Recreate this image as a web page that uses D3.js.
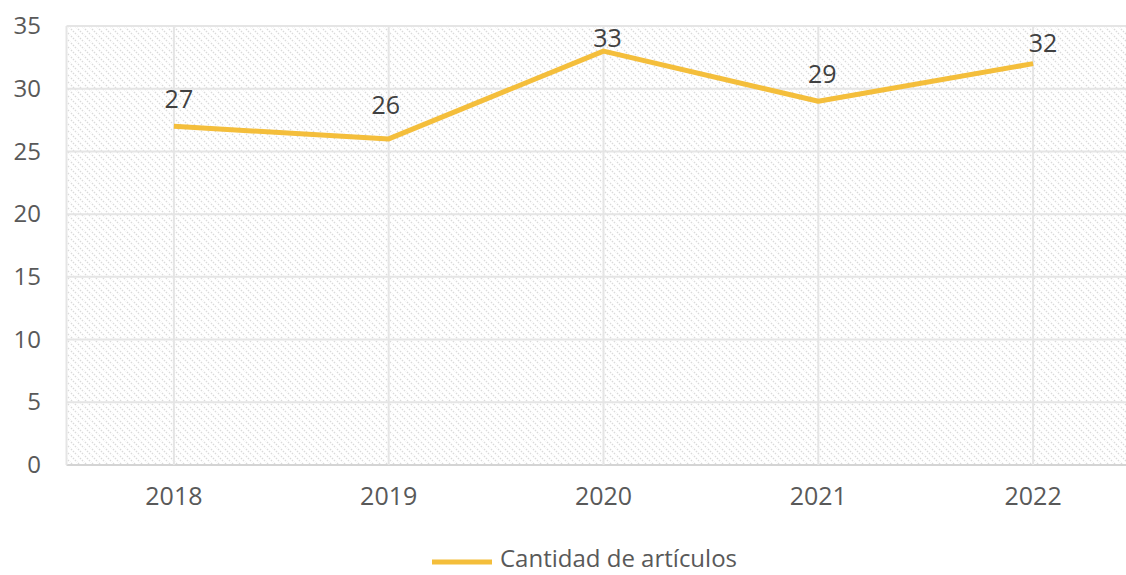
<!DOCTYPE html>
<html>
<head>
<meta charset="utf-8">
<script src="https://cdn.jsdelivr.net/npm/d3@7"></script>
<style>
    body { margin: 0; background: #fff; overflow: hidden; }
    text { font-family: "Open Sans", sans-serif; }
</style>
</head>
<body>
<div id="chart"></div>
<script>
var years = ["2018", "2019", "2020", "2021", "2022"];
var articulos = [27, 26, 33, 29, 32];
var yTicks = [0, 5, 10, 15, 20, 25, 30, 35];
var seriesName = "Cantidad de artículos";

// label nudges (as in the original, labels were moved by hand)
var labelDx = [5, -3, 4, 4, 10];
var labelDy = [18, 25, 4, 18, 12];

var width = 1126,
    height = 575;

var svg = d3.select("#chart").append("svg")
    .attr("width", width)
    .attr("height", height);

var x = d3.scaleBand()
    .domain(years)
    .range([66.5, 1140.5]);

var y = d3.scaleLinear()
    .domain([0, 35])
    .range([465, 26]);

// hatch fill
var defs = svg.append("defs");
var pat = defs.append("pattern")
    .attr("id", "hatch")
    .attr("patternUnits", "userSpaceOnUse")
    .attr("width", 7)
    .attr("height", 7);
pat.append("path")
    .attr("d", "M-1,-1 L8,8 M-8,-1 L1,8 M6,-1 L15,8")
    .attr("stroke", "#dadada")
    .attr("stroke-width", 1.4)
    .attr("stroke-dasharray", "1.5,1.3");

svg.append("rect")
    .attr("x", x.range()[0])
    .attr("y", y(35))
    .attr("width", x.range()[1] - x.range()[0])
    .attr("height", y(0) - y(35))
    .attr("fill", "url(#hatch)");

// grid
svg.append("g").selectAll("line")
    .data(yTicks)
    .enter().append("line")
    .attr("x1", x.range()[0])
    .attr("x2", x.range()[1])
    .attr("y1", function(d) { return y(d); })
    .attr("y2", function(d) { return y(d); })
    .attr("stroke", function(d) { return d === 0 ? "#d4d4d4" : "#e5e5e5"; })
    .attr("stroke-width", 2);

svg.append("g").selectAll("line")
    .data(years)
    .enter().append("line")
    .attr("x1", function(d) { return x(d) + x.bandwidth() / 2; })
    .attr("x2", function(d) { return x(d) + x.bandwidth() / 2; })
    .attr("y1", y(35))
    .attr("y2", y(0))
    .attr("stroke", "#e5e5e5")
    .attr("stroke-width", 2);

svg.append("line")
    .attr("x1", x.range()[0])
    .attr("x2", x.range()[0])
    .attr("y1", y(35))
    .attr("y2", y(0))
    .attr("stroke", "#e5e5e5")
    .attr("stroke-width", 2);

// axes
var yAxis = d3.axisLeft(y).tickValues(yTicks).tickSize(0).tickPadding(0);
var yAxisElem = svg.append("g")
    .attr("transform", "translate(41,0)")
    .call(yAxis);
yAxisElem.select(".domain").remove();
yAxisElem.selectAll("text")
    .attr("font-size", "24px")
    .attr("fill", "#595959")
    .attr("font-family", "Open Sans, sans-serif");

var xAxis = d3.axisBottom(x).tickSize(0).tickPadding(0);
var xAxisElem = svg.append("g")
    .attr("transform", "translate(0,487)")
    .call(xAxis);
xAxisElem.select(".domain").remove();
xAxisElem.selectAll("text")
    .attr("font-size", "25px")
    .attr("fill", "#595959")
    .attr("font-family", "Open Sans, sans-serif");

// line
var line = d3.line()
    .x(function(d, i) { return x(years[i]) + x.bandwidth() / 2; })
    .y(function(d) { return y(d); });

svg.append("path")
    .datum(articulos)
    .attr("d", line)
    .attr("fill", "none")
    .attr("stroke", "#F4BE3B")
    .attr("stroke-width", 5)
    .attr("stroke-linejoin", "round");

// data labels
svg.append("g").selectAll("text")
    .data(articulos)
    .enter().append("text")
    .attr("x", function(d, i) { return x(years[i]) + x.bandwidth() / 2 + labelDx[i]; })
    .attr("y", function(d, i) { return y(d) - labelDy[i]; })
    .attr("text-anchor", "middle")
    .attr("font-size", "25px")
    .attr("fill", "#404040")
    .text(function(d) { return d; });

// legend
var legend = svg.append("g").attr("transform", "translate(432,562)");
legend.append("line")
    .attr("x1", 0)
    .attr("x2", 60)
    .attr("stroke", "#F4BE3B")
    .attr("stroke-width", 5);
legend.append("text")
    .attr("x", 68)
    .attr("y", 5)
    .attr("font-size", "24px")
    .attr("fill", "#595959")
    .text(seriesName);
</script>
</body>
</html>
